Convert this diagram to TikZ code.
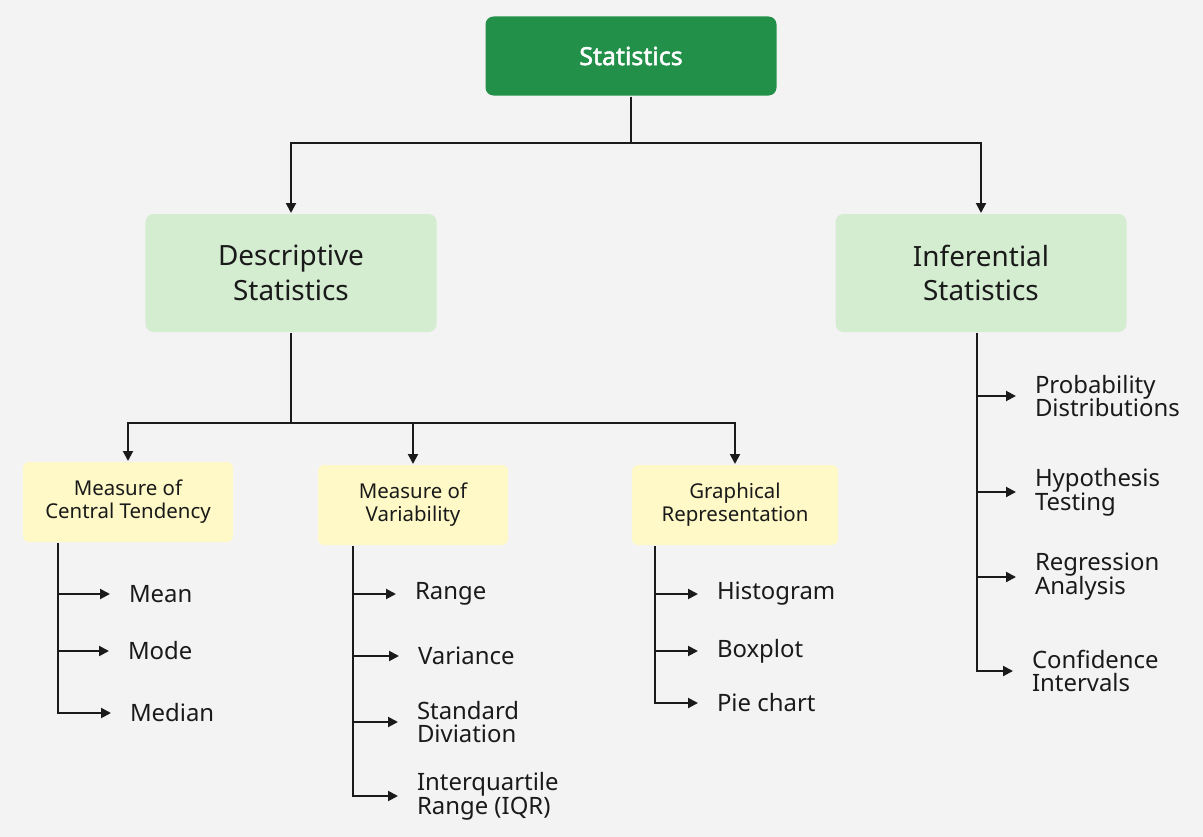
\documentclass[tikz,border=0pt]{standalone}
\usepackage{fontspec}
\setmainfont{Noto Sans}[AutoFakeBold=2]
\usetikzlibrary{arrows.meta}
\definecolor{bggray}{HTML}{F3F3F3}
\definecolor{topgreen}{HTML}{23904A}
\definecolor{softgreen}{HTML}{D4EDD1}
\definecolor{softyellow}{HTML}{FEF9C6}
\definecolor{ink}{HTML}{1A1A1A}
\begin{document}
\begin{tikzpicture}[x=1bp,y=-1bp,line width=2bp,ink,
  arr/.style={-{Triangle[length=10bp,width=10bp]}},
  leafarr/.style={arr,shorten >=18bp},
  topbox/.style={fill=topgreen,text=white,rounded corners=8bp,minimum width=291bp,
    minimum height=79bp,font=\fontsize{25}{30}\selectfont\bfseries},
  midbox/.style={fill=softgreen,rounded corners=8bp,minimum width=291bp,minimum height=118bp,
    align=center,font=\fontsize{28}{35}\selectfont},
  catbox/.style={fill=softyellow,rounded corners=6bp,minimum height=80bp,align=center,
    font=\fontsize{20.5}{23}\selectfont},
  leaf/.style={anchor=west,align=left,inner sep=0pt,font=\fontsize{24}{24}\selectfont}]
  \fill[bggray] (0,0) rectangle (1203,837);
  % top and second level
  \node[topbox] (stat) at (631,56) {Statistics};
  \node[midbox] (desc) at (291,273) {Descriptive\\Statistics};
  \node[midbox] (inf) at (981,273) {Inferential\\Statistics};
  \draw[arr] (stat.south) -- ++(0,46) -| (desc.north);
  \draw[arr] (stat.south) -- ++(0,46) -| (inf.north);
  % categories
  \node[catbox,minimum width=210bp] (mct) at (128,502) {Measure of\\Central Tendency};
  \node[catbox,minimum width=190bp] (mov) at (413,505) {Measure of\\Variability};
  \node[catbox,minimum width=206bp] (gr) at (735,505) {Graphical\\Representation};
  \foreach \c in {mct,mov,gr}
    \draw[arr] (desc.south) -- ++(0,90) -| (\c.north);
  % leaves
  \node[leaf] (mean) at (128,594) {Mean};
  \node[leaf] (mode) at (127,651) {Mode};
  \node[leaf] (median) at (129,713) {Median};
  \node[leaf] (range) at (414,594) {Range};
  \node[leaf] (variance) at (417,656) {Variance};
  \node[leaf] (stddev) at (416,722) {Standard\\Diviation};
  \node[leaf] (iqr) at (416,796) {Interquartile\\Range (IQR)};
  \node[leaf] (hist) at (716,594) {Histogram};
  \node[leaf] (boxplot) at (716,651) {Boxplot};
  \node[leaf] (pie) at (716,703) {Pie chart};
  \node[leaf] (prob) at (1034,396) {Probability\\Distributions};
  \node[leaf] (hypo) at (1034,492) {Hypothesis\\Testing};
  \node[leaf] (regr) at (1034,577) {Regression\\Analysis};
  \node[leaf] (conf) at (1031,671) {Confidence\\Intervals};
  \foreach \n in {mean,mode,median}
    \draw[leafarr] ([xshift=36bp]mct.south west) |- (\n);
  \foreach \n in {range,variance,stddev,iqr}
    \draw[leafarr] ([xshift=36bp]mov.south west) |- (\n);
  \foreach \n in {hist,boxplot,pie}
    \draw[leafarr] ([xshift=24bp]gr.south west) |- (\n);
  \foreach \n in {prob,hypo,regr,conf}
    \draw[leafarr] ([xshift=-4bp]inf.south) |- (\n);
\end{tikzpicture}
\end{document}
